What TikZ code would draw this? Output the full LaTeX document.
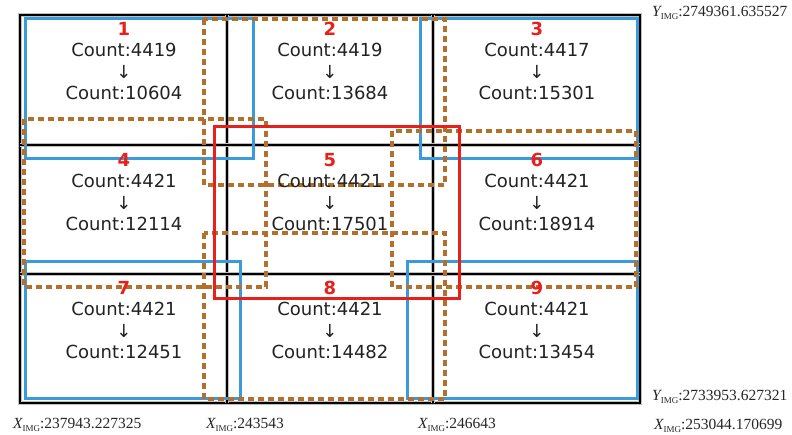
\documentclass[tikz,border=0pt]{standalone}
\usepackage{fontspec}
\setmainfont{DejaVu Sans}
\newfontfamily\coordfont{Liberation Serif}
\usetikzlibrary{positioning}

\definecolor{tileblue}{RGB}{58,155,218}
\definecolor{tilered}{RGB}{232,32,28}
\definecolor{tilebrown}{RGB}{178,112,44}
\definecolor{tiletext}{RGB}{34,34,34}

\newcommand{\tilecell}[3]{{\color{tilered}\bfseries #1}\\Count:#2\\↓\\Count:#3}
\newcommand{\imgsub}[1]{{\itshape #1}\raisebox{-0.35ex}{\fontsize{9}{9}\selectfont IMG}}

\begin{document}
\begin{tikzpicture}[x=1pt, y=-1pt,
    gridline/.style={preaction={draw=gray!50, line width=4.6pt}, draw=black, line width=2pt},
    bluebox/.style={draw=tileblue, line width=3pt},
    redbox/.style={draw=tilered, line width=3pt},
    dashbox/.style={draw=tilebrown, line width=3.1pt, dash pattern=on 6pt off 4pt},
    tiletext/.style={align=center, text=tiletext, font=\fontsize{18}{21.5}\selectfont, inner sep=0pt},
    coordtext/.style={anchor=west, inner sep=0pt, font=\coordfont\fontsize{15.5}{17}\selectfont, text=black!85}]

\useasboundingbox (0,0) rectangle (792,435);

% Define grid positions
\def\colA{20}  \def\colB{227} \def\colC{433} \def\colD{640}
\def\rowA{15}  \def\rowB{145} \def\rowC{274} \def\rowD{403}

% --- Grid of the nine tiles ---
\draw[gridline] (\colA,\rowA) rectangle (\colD,\rowD);
\draw[gridline] (\colB,\rowA) -- (\colB,\rowD);
\draw[gridline] (\colC,\rowA) -- (\colC,\rowD);
\draw[gridline] (\colA,\rowB) -- (\colD,\rowB);
\draw[gridline] (\colA,\rowC) -- (\colD,\rowC);

% --- Corner tiles, expanded (blue) ---
\draw[bluebox] (25,19) rectangle (253,159);
\draw[bluebox] (420,19) rectangle (637,159);
\draw[bluebox] (25,262) rectangle (240,398);
\draw[bluebox] (407,262) rectangle (637,398);

% --- Edge tiles, expanded (dashed) ---
\draw[dashbox] (204,19) rectangle (445,185);
\draw[dashbox] (24,119) rectangle (266,287);
\draw[dashbox] (392,131) rectangle (636,287);
\draw[dashbox] (204,233) rectangle (445,399);

% --- Centre tile, expanded (red) ---
\draw[redbox] (214,127) rectangle (459,299);

% --- Tile labels ---
\node[tiletext] (tile1) at (124,61) {\tilecell{1}{4419}{10604}};
\node[tiletext] (tile2) at (330,61) {\tilecell{2}{4419}{13684}};
\node[tiletext] (tile3) at (537,61) {\tilecell{3}{4417}{15301}};
\node[tiletext] (tile4) at (124,192) {\tilecell{4}{4421}{12114}};
\node[tiletext] (tile5) at (330,192) {\tilecell{5}{4421}{17501}};
\node[tiletext] (tile6) at (537,192) {\tilecell{6}{4421}{18914}};
\node[tiletext] (tile7) at (124,320) {\tilecell{7}{4421}{12451}};
\node[tiletext] (tile8) at (330,320) {\tilecell{8}{4421}{14482}};
\node[tiletext] (tile9) at (537,320) {\tilecell{9}{4421}{13454}};

% --- Image coordinates ---
\node[coordtext] (ytop) at (652,13) {\imgsub{Y}:2749361.635527};
\node[coordtext] (ybot) at (652,397) {\imgsub{Y}:2733953.627321};
\node[coordtext] (xA) at (13,425) {\imgsub{X}:237943.227325};
\node[coordtext] (xB) at (206,425) {\imgsub{X}:243543};
\node[coordtext] (xC) at (418,425) {\imgsub{X}:246643};
\node[coordtext] (xD) at (654,426) {\imgsub{X}:253044.170699};

\end{tikzpicture}
\end{document}
